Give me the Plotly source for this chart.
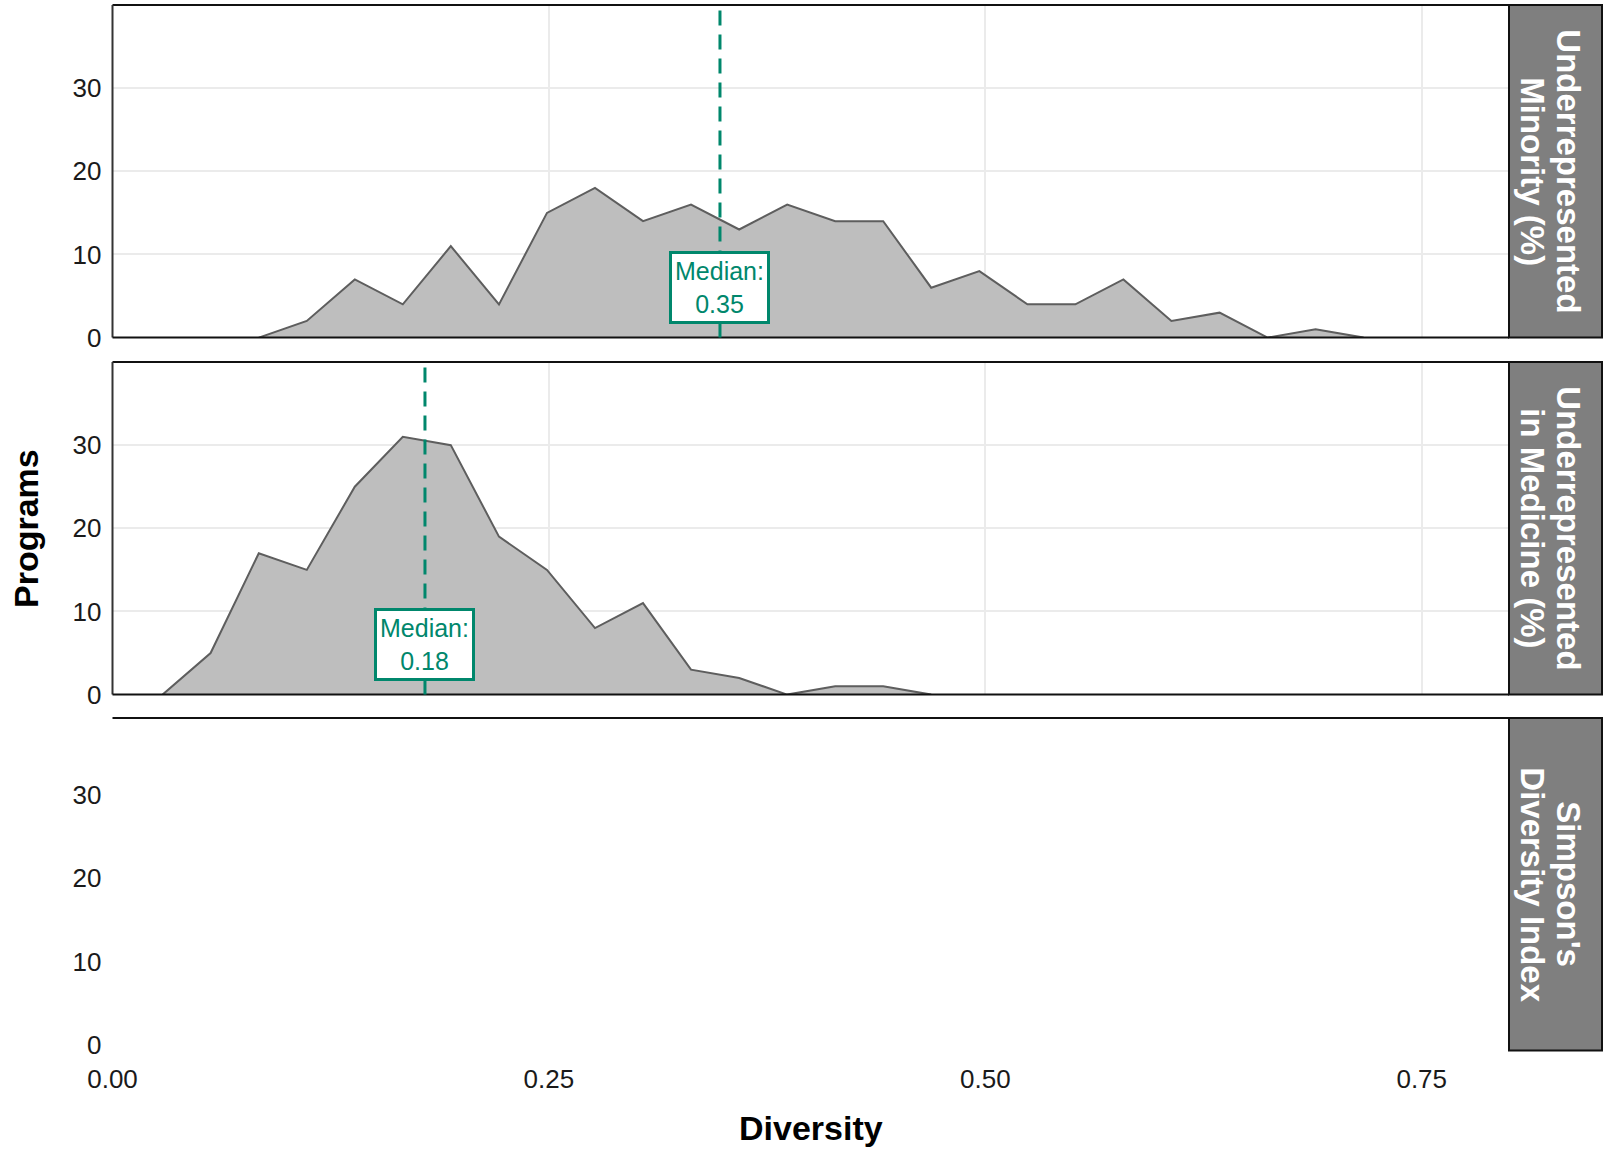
import plotly.graph_objects as go

# ---- data ----
bin_centers = [0.0287, 0.0562, 0.0838, 0.1113, 0.1388, 0.1663, 0.1938, 0.2214, 0.2489,
               0.2764, 0.3039, 0.3314, 0.3590, 0.3865, 0.4140, 0.4415, 0.4690, 0.4966,
               0.5241, 0.5516, 0.5791, 0.6066, 0.6342, 0.6617, 0.6892, 0.7167]
urm_counts = [None, None, 0, 2, 7, 4, 11, 4, 15, 18, 14, 16, 13, 16, 14, 14, 6, 8, 4, 4, 7, 2, 3, 0, 1, 0]
uim_counts = [0, 5, 17, 15, 25, 31, 30, 19, 15, 8, 11, 3, 2, 0, 1, 1, 0,
              None, None, None, None, None, None, None, None, None]
medians = [0.348, 0.179]
strip_labels = [["Underrepresented", "Minority (%)"],
                ["Underrepresented", "in Medicine (%)"],
                ["Simpson's", "Diversity Index"]]
x_ticks = [0.0, 0.25, 0.50, 0.75]
x_ticktext = ["0.00", "0.25", "0.50", "0.75"]
y_ticks = [0, 10, 20, 30]

W, H = 1604, 1153
def fx(p): return p / W
def fy(p): return 1 - p / H

TEAL = "#00876C"
FONT = "Liberation Sans, Arial, sans-serif"

xdom = [fx(112.5), fx(1509)]
ydoms = [[fy(337.6), fy(5)], [fy(694.6), fy(362)], [fy(1050.6), fy(718)]]

fig = go.Figure()

series = [urm_counts, uim_counts]
for i, counts in enumerate(series):
    xs = [x for x, c in zip(bin_centers, counts) if c is not None]
    ys = [c for c in counts if c is not None]
    sfx = "" if i == 0 else str(i + 1)
    fig.add_trace(go.Scatter(x=xs, y=ys, mode="lines", fill="tozeroy",
                             fillcolor="#BEBEBE", line=dict(color="#5E5E5E", width=2),
                             xaxis="x" + sfx, yaxis="y" + sfx, showlegend=False,
                             hoverinfo="skip"))
fig.add_trace(go.Scatter(x=[], y=[], xaxis="x3", yaxis="y3", showlegend=False))

layout = dict(width=W, height=H, margin=dict(l=0, r=0, t=0, b=0),
              paper_bgcolor="white", plot_bgcolor="white", showlegend=False,
              font=dict(family=FONT, color="#1A1A1A"))

for i in range(3):
    sfx = "" if i == 0 else str(i + 1)
    grid = i < 2
    layout["xaxis" + sfx] = dict(domain=xdom, anchor="y" + sfx, range=[0, 0.8],
                                 tickvals=x_ticks, ticktext=x_ticktext,
                                 showticklabels=(i == 2), showgrid=grid,
                                 gridcolor="#EBEBEB", gridwidth=2, zeroline=False,
                                 showline=False, ticks="", ticklabelstandoff=10,
                                 tickfont=dict(size=26, color="#1A1A1A"),
                                 fixedrange=True, automargin=False)
    layout["yaxis" + sfx] = dict(domain=ydoms[i], anchor="x" + sfx, range=[0, 40],
                                 tickvals=y_ticks, showgrid=grid,
                                 gridcolor="#EBEBEB", gridwidth=2, zeroline=False,
                                 showline=False, ticks="", ticklabelstandoff=10,
                                 ticklabelshift=(-6 if i == 2 else 0),
                                 tickfont=dict(size=26, color="#1A1A1A"),
                                 fixedrange=True, automargin=False)

fig.update_layout(**layout)

shapes = []
annotations = []
for i in range(3):
    sfx = "" if i == 0 else str(i + 1)
    xr, yr = "x" + sfx + " domain", "y" + sfx + " domain"
    shapes.append(dict(type="line", xref=xr, yref=yr, x0=0, x1=1, y0=1, y1=1,
                       line=dict(color="#111111", width=2)))
    if i < 2:
        shapes.append(dict(type="line", xref=xr, yref=yr, x0=0, x1=0, y0=0, y1=1,
                           line=dict(color="#333333", width=2)))
        shapes.append(dict(type="line", xref=xr, yref=yr, x0=0, x1=1, y0=0, y1=0,
                           line=dict(color="#111111", width=2)))
    y0, y1 = ydoms[i]
    shapes.append(dict(type="rect", xref="paper", yref="paper", x0=fx(1509), x1=fx(1602),
                       y0=y0, y1=y1, fillcolor="#7F7F7F",
                       line=dict(color="#111111", width=2)))
    ymid = (y0 + y1) / 2
    for j, (txt, xc) in enumerate(zip(strip_labels[i], [1569, 1533])):
        annotations.append(dict(text="<b>" + txt + "</b>", xref="paper", yref="paper",
                                x=fx(xc), y=ymid, textangle=90, showarrow=False,
                                xanchor="center", yanchor="middle",
                                font=dict(size=33, color="white", family=FONT)))

for i, m in enumerate(medians):
    sfx = "" if i == 0 else str(i + 1)
    shapes.append(dict(type="line", xref="x" + sfx, yref="y" + sfx + " domain",
                       x0=m, x1=m, y0=0, y1=1,
                       line=dict(color=TEAL, width=3, dash="15px,9px")))
    annotations.append(dict(text="Median:<br>%.2f" % m, xref="x" + sfx, yref="y" + sfx,
                            x=m, y=6, showarrow=False, xanchor="center", yanchor="middle",
                            font=dict(size=25, color=TEAL, family=FONT),
                            bgcolor="white", bordercolor=TEAL, borderwidth=3,
                            borderpad=3))

annotations.append(dict(text="<b>Programs</b>", xref="paper", yref="paper",
                        x=fx(26), y=fy(529), textangle=-90, showarrow=False,
                        xanchor="center", yanchor="middle",
                        font=dict(size=34, color="black", family=FONT)))
annotations.append(dict(text="<b>Diversity</b>", xref="paper", yref="paper",
                        x=fx(811), y=fy(1128), showarrow=False,
                        xanchor="center", yanchor="middle",
                        font=dict(size=34, color="black", family=FONT)))

fig.update_layout(shapes=shapes, annotations=annotations)
fig.write_html("out.html", config={"displayModeBar": False},
               post_script="document.body.style.margin='0';")
